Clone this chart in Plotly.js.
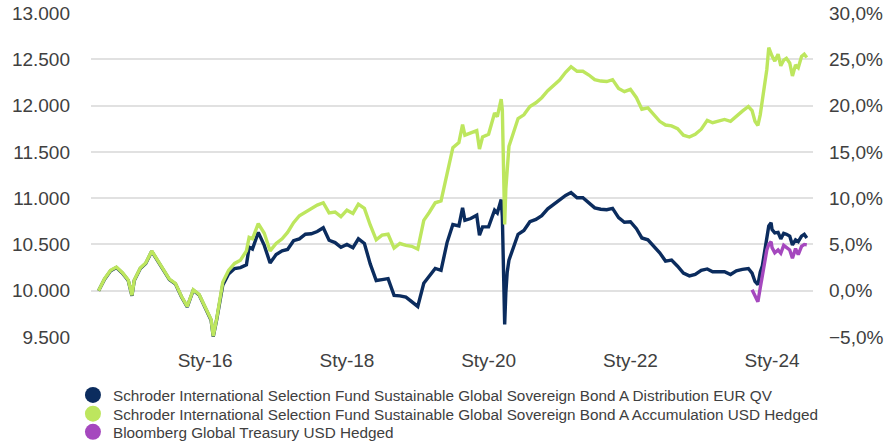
<!DOCTYPE html>
<html>
<head>
<meta charset="utf-8">
<script src="https://cdn.plot.ly/plotly-3.0.1.min.js"></script>
<style>html,body{margin:0;padding:0;background:#fff;}#chart{width:893px;height:442px;}</style>
</head>
<body>
<div id="chart"></div>
<script>
// ---- data ----
const dates = [
  '2014-07-01','2014-08-01','2014-09-01','2014-10-01','2014-11-01','2014-12-01','2014-12-20',
  '2015-01-01','2015-02-01','2015-03-01','2015-04-01','2015-05-01','2015-06-01','2015-07-01','2015-08-01','2015-09-01','2015-10-01','2015-11-01','2015-12-01',
  '2016-01-01','2016-02-01','2016-02-12','2016-03-01','2016-04-01','2016-05-01','2016-06-01','2016-07-01','2016-08-01','2016-08-15','2016-09-01','2016-10-01','2016-11-01','2016-12-01',
  '2017-01-01','2017-02-01','2017-03-01','2017-04-01','2017-05-01','2017-06-01','2017-07-01','2017-08-01','2017-09-01','2017-10-01','2017-11-01','2017-12-01',
  '2018-01-01','2018-02-01','2018-03-01','2018-04-01','2018-05-01','2018-06-01','2018-07-01','2018-08-01','2018-09-01','2018-10-01','2018-11-01','2018-12-01',
  '2019-01-01','2019-02-01','2019-03-01','2019-04-01','2019-05-01','2019-06-01','2019-07-01','2019-08-01','2019-08-20','2019-09-01','2019-10-01','2019-11-01','2019-11-15','2019-12-01',
  '2020-01-01','2020-02-01','2020-02-15','2020-03-01','2020-03-06','2020-03-12','2020-03-17','2020-03-20','2020-03-24','2020-03-30','2020-04-06','2020-04-15','2020-05-01','2020-06-01','2020-07-01','2020-08-01','2020-09-01','2020-10-01','2020-11-01','2020-12-01',
  '2021-01-01','2021-02-01','2021-03-01','2021-04-01','2021-05-01','2021-06-01','2021-07-01','2021-08-01','2021-09-01','2021-10-01','2021-11-01','2021-12-01',
  '2022-01-01','2022-02-01','2022-03-01','2022-04-01','2022-05-01','2022-06-01','2022-07-01','2022-08-01','2022-09-01','2022-10-01','2022-11-01','2022-12-01',
  '2023-01-01','2023-02-01','2023-03-01','2023-04-01','2023-05-01','2023-06-01','2023-07-01','2023-08-01','2023-09-01','2023-09-20','2023-10-05','2023-10-20','2023-11-01','2023-11-12','2023-11-24','2023-12-05','2023-12-15','2023-12-27',
  '2024-01-01','2024-01-15','2024-02-01','2024-02-15','2024-03-01','2024-03-15','2024-04-01','2024-04-15','2024-05-01','2024-05-15','2024-06-01','2024-06-15','2024-06-28'
];

// Schroder ISF Sustainable Global Sovereign Bond A Distribution EUR QV
const distEUR = [
  10000,10125,10215,10250,10190,10110,9945,
  10110,10240,10295,10425,10325,10205,10120,10075,9935,9825,10005,9955,
  9825,9680,9505,9690,10060,10180,10240,10250,10280,10470,10450,10630,10490,10300,
  10390,10430,10445,10540,10560,10610,10615,10640,10680,10545,10520,10470,
  10500,10465,10560,10510,10290,10110,10120,10130,9950,9945,9930,9885,
  9830,10080,10160,10240,10220,10520,10715,10700,10895,10760,10780,10815,10600,10690,
  10690,10870,10840,10950,10985,10800,10300,9900,9635,9980,10200,10330,10420,10610,10650,10745,10770,10810,10885,10935,
  10985,11030,11060,11005,11005,10955,10895,10880,10875,10890,10790,10740,
  10745,10670,10570,10550,10480,10410,10320,10330,10265,10190,10160,10175,
  10220,10235,10205,10205,10205,10175,10215,10230,10240,10190,10100,10065,10200,10270,10440,10620,10700,10735,
  10660,10625,10630,10560,10620,10610,10590,10495,10550,10530,10590,10610,10570
];

// Schroder ISF Sustainable Global Sovereign Bond A Accumulation USD Hedged
const accUSD = [
  10000,10130,10220,10255,10195,10115,9950,
  10115,10245,10300,10430,10330,10210,10125,10080,9940,9830,10010,9960,
  9830,9690,9510,9700,10090,10220,10295,10330,10430,10575,10560,10725,10620,10430,
  10510,10560,10630,10735,10810,10850,10895,10925,10950,10840,10850,10800,
  10870,10835,10935,10890,10710,10550,10600,10610,10460,10510,10490,10480,
  10450,10760,10845,10950,10970,11260,11545,11600,11795,11680,11700,11730,11530,11660,
  11690,11920,11880,12030,12070,11950,11500,11000,10715,11100,11300,11560,11660,11860,11900,11990,12030,12085,12160,12215,
  12275,12360,12420,12370,12370,12330,12280,12265,12260,12280,12185,12150,
  12175,12085,11960,11975,11910,11830,11790,11780,11750,11680,11660,11690,
  11745,11840,11815,11830,11850,11830,11890,11940,11990,11945,11830,11785,11900,12050,12200,12390,12625,12540,
  12535,12480,12555,12430,12490,12510,12460,12320,12440,12410,12530,12555,12520
];

// Bloomberg Global Treasury USD Hedged
const benchDates = [
  '2023-09-20','2023-10-05','2023-10-20','2023-11-01','2023-11-12','2023-11-24','2023-12-05','2023-12-15','2023-12-27',
  '2024-01-01','2024-01-15','2024-02-01','2024-02-15','2024-03-01','2024-03-15','2024-04-01','2024-04-15','2024-05-01','2024-05-15','2024-06-01','2024-06-15','2024-06-28'
];
const bench = [
  10010,9935,9880,10030,10150,10310,10440,10500,10530,
  10465,10410,10440,10405,10490,10470,10440,10350,10455,10390,10480,10500,10495
];

const seriesNames = [
  'Schroder International Selection Fund Sustainable Global Sovereign Bond A Distribution EUR QV',
  'Schroder International Selection Fund Sustainable Global Sovereign Bond A Accumulation USD Hedged',
  'Bloomberg Global Treasury USD Hedged'
];
const seriesColors = ['#0b2c5e', '#bde65e', '#a548be'];

const xTickVals = ['2016-01-01','2018-01-01','2020-01-01','2022-01-01','2024-01-01'];
const xTickText = ['Sty-16','Sty-18','Sty-20','Sty-22','Sty-24'];

// ---- traces ----
const lineData = [[dates, distEUR], [dates, accUSD], [benchDates, bench]];
const traces = lineData.map((d, i) => ({
  type: 'scatter', mode: 'lines', x: d[0], y: d[1],
  name: seriesNames[i], showlegend: false,
  line: {color: seriesColors[i], width: 3.4}, hoverinfo: 'skip'
}));
// legend entries drawn as round markers (one legend box per entry), on the % axis
const legendIds = ['legend', 'legend2', 'legend3'];
seriesNames.forEach((n, i) => traces.push({
  type: 'scatter', mode: 'markers', x: [null], y: [null], name: n,
  yaxis: 'y2', legend: legendIds[i],
  marker: {color: seriesColors[i], size: 16, symbol: 'circle'}, showlegend: true
}));

const font = {family: 'Liberation Sans, Arial, sans-serif', color: '#404040'};
const legendRows = [-0.128, -0.186, -0.242];
function legendBox(y) {
  return {
    x: -0.025, xanchor: 'left', y: y, yanchor: 'top',
    orientation: 'v', font: Object.assign({size: 15.3}, font),
    itemwidth: 30, bgcolor: 'rgba(0,0,0,0)', borderwidth: 0
  };
}

const layout = {
  width: 893, height: 442,
  margin: {l: 91, r: 80, t: 13, b: 105, pad: 0, autoexpand: false},
  paper_bgcolor: '#ffffff', plot_bgcolor: '#ffffff',
  separators: ',.',
  font: Object.assign({size: 19}, font),
  showlegend: true,
  legend: legendBox(legendRows[0]),
  legend2: legendBox(legendRows[1]),
  legend3: legendBox(legendRows[2]),
  xaxis: {
    type: 'date', range: ['2014-05-23', '2024-07-30'],
    tickmode: 'array', tickvals: xTickVals, ticktext: xTickText,
    showgrid: false, zeroline: false, showline: false, ticks: '',
    ticklabelstandoff: 10,
    tickfont: Object.assign({size: 19}, font)
  },
  yaxis: {
    range: [9500, 13000], dtick: 500, tick0: 9500, tickformat: ',.0f',
    showgrid: true, gridcolor: '#e1e1e1', gridwidth: 2,
    zeroline: false, showline: false, ticks: '',
    ticklabelstandoff: 20,
    tickfont: Object.assign({size: 19}, font)
  },
  yaxis2: {
    overlaying: 'y', side: 'right', anchor: 'x',
    range: [-5, 30], dtick: 5, tick0: -5, tickformat: '.1f', ticksuffix: '%',
    showgrid: false, zeroline: false, showline: false, ticks: '',
    ticklabelstandoff: 15,
    tickfont: Object.assign({size: 19}, font)
  }
};

Plotly.newPlot('chart', traces, layout, {staticPlot: true, displayModeBar: false});
</script>
</body>
</html>
